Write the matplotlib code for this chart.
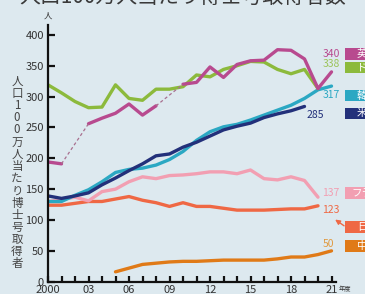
import matplotlib
matplotlib.use("Agg")
import matplotlib.pyplot as plt
from matplotlib.patches import Rectangle
import numpy as np

plt.rcParams['font.family'] = ['Noto Sans CJK JP', 'DejaVu Sans']

years = list(range(2000, 2022))

uk_years_a = [2000, 2001]
uk_vals_a = [194, 191]
uk_years_b = [2003, 2004, 2005, 2006, 2007, 2008]
uk_vals_b = [256, 265, 273, 288, 270, 285]
uk_years_c = list(range(2010, 2022))
uk_vals_c = [320, 323, 348, 331, 352, 358, 359, 376, 375, 361, 313, 340]

de_years = list(range(2000, 2021))
de_vals = [319, 306, 292, 282, 283, 319, 297, 294, 312, 312, 316, 335, 332, 344, 350,
           357, 356, 344, 337, 344, 313]

kr_years = list(range(2000, 2022))
kr_vals = [130, 130, 140, 149, 162, 177, 182, 184, 189, 198, 211, 229, 243, 251, 255,
           262, 270, 278, 286, 297, 311, 317]

us_years = list(range(2000, 2020))
us_vals = [139, 135, 139, 144, 157, 168, 180, 191, 204, 207, 218, 226, 236, 246, 252,
           257, 266, 272, 277, 284]

fr_years = list(range(2000, 2021))
fr_vals = [130, 133, 137, 131, 146, 150, 162, 170, 167, 172, 173, 175, 178, 178, 175,
           181, 167, 165, 170, 164, 137]

jp_years = list(range(2000, 2021))
jp_vals = [124, 124, 127, 130, 130, 134, 138, 132, 128, 122, 128, 122, 122, 119, 116,
           116, 116, 117, 118, 118, 123]

cn_years = list(range(2005, 2022))
cn_vals = [16, 22, 28, 30, 32, 33, 33, 34, 35, 35, 35, 35, 37, 40, 40, 44, 50]

names = ['英国', 'ドイツ', '韓国', '米国', 'フランス', '日本', '中国']
end_labels = ['340', '338', '317', '285', '137', '123', '50']

c_uk = '#b84a8f'
c_de = '#8cba3c'
c_kr = '#2ba8c3'
c_us = '#22307a'
c_fr = '#f29fb2'
c_jp = '#ef6844'
c_cn = '#e07a17'
bg = '#dde9ef'

W, H = 365, 294
fig = plt.figure(figsize=(W / 100, H / 100), dpi=100)
fig.patch.set_facecolor(bg)

x0 = 48; y0 = 281.7; x1 = 48 + 13.5 * 21.3; ytop = 25
ax = fig.add_axes([x0 / W, 1 - y0 / H, (x1 - x0) / W, (y0 - ytop) / H])
ax.set_facecolor(bg)
ax.set_xlim(2000, 2021.3)
ax.set_ylim(0, 416)

lw = 2.4
ax.plot(jp_years, jp_vals, color=c_jp, lw=lw, solid_capstyle='round')
ax.plot(fr_years, fr_vals, color=c_fr, lw=lw, solid_capstyle='round')
ax.plot(cn_years, cn_vals, color=c_cn, lw=lw, solid_capstyle='round')
ax.plot(kr_years, kr_vals, color=c_kr, lw=lw, solid_capstyle='round')
ax.plot(us_years, us_vals, color=c_us, lw=lw, solid_capstyle='round')
ax.plot(de_years, de_vals, color=c_de, lw=lw, solid_capstyle='round')
ax.plot(uk_years_a, uk_vals_a, color=c_uk, lw=lw, solid_capstyle='round')
ax.plot(uk_years_b, uk_vals_b, color=c_uk, lw=lw, solid_capstyle='round')
ax.plot(uk_years_c, uk_vals_c, color=c_uk, lw=lw, solid_capstyle='round')
ax.plot([uk_years_a[-1], uk_years_b[0]], [uk_vals_a[-1], uk_vals_b[0]],
        color='#a8708f', lw=0.9, ls=(0, (2.5, 2)))
ax.plot([uk_years_b[-1], uk_years_c[0]], [uk_vals_b[-1], uk_vals_c[0]],
        color='#a8708f', lw=0.9, ls=(0, (2.5, 2)))

for s in ['top', 'right']:
    ax.spines[s].set_visible(False)
for s in ['left', 'bottom']:
    ax.spines[s].set_linewidth(1.6)
    ax.spines[s].set_color('#111111')
ax.spines['bottom'].set_bounds(2000, 2021.3)

ax.set_yticks(np.arange(0, 401, 50))
ax.set_xticks([2000, 2003, 2006, 2009, 2012, 2015, 2018, 2021])
ax.set_xticklabels(['2000', '03', '06', '09', '12', '15', '18', '21'])
ax.set_xticks(years, minor=True)
ax.tick_params(axis='y', direction='in', length=5, width=1.6, color='#111111',
               labelsize=8, labelcolor='#333333', pad=3)
ax.tick_params(axis='x', which='both', direction='in', length=4, width=1.6,
               color='#111111', labelsize=8, labelcolor='#333333', pad=2.5)

lab_cols = [c_uk, '#9cc45a', c_kr, c_us, c_fr, c_jp, '#e09a40']
lab_pos = [(2020.96, 368.6), (2020.96, 352.3), (2020.96, 302.6), (2019.8, 270.2),
           (2020.96, 143.3), (2020.96, 116.2), (2020.74, 60.6)]
for t, c, (lx, ly) in zip(end_labels, lab_cols, lab_pos):
    ax.text(lx, ly, t, color=c, fontsize=7.5, ha='center', va='center', clip_on=False)

ax.annotate('', xy=(2021.1, 103.3), xytext=(2022.1, 88),
            arrowprops=dict(arrowstyle='-|>', color=c_jp, lw=1.0, mutation_scale=7),
            annotation_clip=False)

# legend boxes (partly outside figure)
box_cols = [c_uk, c_de, c_kr, c_us, c_fr, c_jp, c_cn]
box_y = [(48, 60), (62, 73), (90, 101), (108, 119), (187, 199), (221, 233), (240, 252)]
box_tx = [357, 357, 357, 357, 351, 357, 357]
for n, c, (ya, yb), tx in zip(names, box_cols, box_y, box_tx):
    fig.patches.append(Rectangle((345 / W, 1 - yb / H), 40 / W, (yb - ya) / H,
                                 transform=fig.transFigure, facecolor=c, edgecolor='none'))
    fig.text(tx / W, 1 - (ya + yb) / 2 / H, n, color='white', fontsize=7.5,
             ha='left', va='center')

# title (cut off at top)
fig.text(0.5, 1 + 3.5 / H, '人口100万人当たり博士号取得者数', fontsize=15,
         color='#3a3a3a', ha='center', va='center')

# vertical y-axis label
ylab = '人口100万人当たり博士号取得者'
for i, ch in enumerate(ylab):
    fig.text(17 / W, 1 - (81 + i * 12.2) / H, ch, fontsize=8.3, color='#444444',
             ha='center', va='center')

fig.text(48 / W, 1 - 16 / H, '人', fontsize=6, color='#333333', ha='center', va='center')
fig.text(339 / W, 1 - 289 / H, '年度', fontsize=4.5, color='#333333', ha='left', va='center')

fig.savefig('out.png', dpi=100, facecolor=bg)
